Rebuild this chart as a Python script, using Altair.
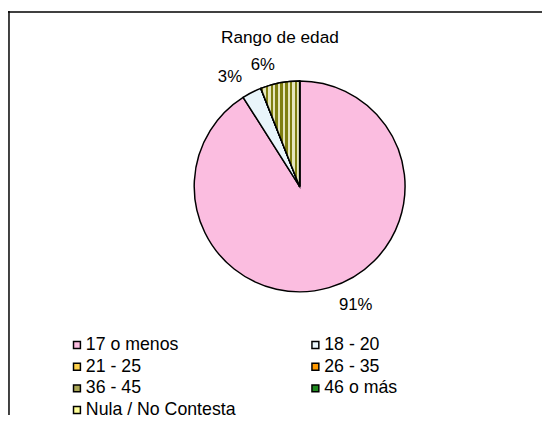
import altair as alt
import pandas as pd

categories = ["17 o menos", "18 - 20", "21 - 25", "26 - 35", "36 - 45", "46 o más", "Nula / No Contesta"]
values = [91, 3, 0, 0, 6, 0, 0]
colors = ["#fbbde0", "#e9f5fb", "#ffd24d", "#ff9900", "#a9a655", "#1f8a1f", "#ffff99"]

df = pd.DataFrame({"cat": categories, "value": values, "idx": list(range(len(categories)))})

FONT = "Liberation Sans"
FS = 17
CX, CY, R = 296, 178, 107
W, H = 542, 410

# vertical stripes for the olive slice
n = 8
stops = []
for i in range(n):
    stops += [
        {"offset": i / n, "color": "#7f7f10"},
        {"offset": (i + 0.5) / n, "color": "#7f7f10"},
        {"offset": (i + 0.5) / n, "color": "#e6e6bc"},
        {"offset": (i + 1) / n, "color": "#e6e6bc"},
    ]
stripes = {"gradient": "linear", "x1": 0, "x2": 1, "y1": 0, "y2": 0, "stops": stops}

base = alt.Chart(df)
theta = alt.Theta("value:Q", stack=True)
order = alt.Order("idx:Q", sort="ascending")

pie = base.mark_arc(outerRadius=R, stroke="black", strokeWidth=1.5).encode(
    x=alt.value(CX), y=alt.value(CY),
    theta=theta, order=order,
    color=alt.Color("cat:N", scale=alt.Scale(domain=categories, range=colors),
                    sort=categories,
                    legend=alt.Legend(title=None, orient="none", legendX=57, legendY=330,
                                      direction="horizontal", columns=2,
                                      symbolType="square", symbolSize=49, symbolOffset=4,
                                      symbolStrokeColor="black", symbolStrokeWidth=1.5,
                                      labelFont=FONT, labelFontSize=18, labelColor="black",
                                      labelOffset=0, rowPadding=4, columnPadding=67,
                                      labelLimit=0, padding=0)),
)

stripe_layer = base.mark_arc(outerRadius=R, stroke="black", strokeWidth=1.5).encode(
    x=alt.value(CX), y=alt.value(CY),
    theta=theta, order=order,
    fill=alt.condition(alt.datum.cat == "36 - 45", alt.value(stripes), alt.value("transparent")),
    strokeOpacity=alt.condition(alt.datum.cat == "36 - 45", alt.value(1), alt.value(0)),
)

lab = base.transform_calculate(
    label="datum.value > 0 ? format(datum.value / 100, '.0%') : ''"
)

labels_main = lab.transform_calculate(
    txt="datum.cat == '17 o menos' ? datum.label : ''"
).mark_text(radius=125, dx=22, font=FONT, fontSize=FS, color="black", baseline="middle").encode(
    x=alt.value(CX), y=alt.value(CY), theta=theta, order=order, text="txt:N"
)

labels_other = lab.transform_calculate(
    txt="datum.cat != '17 o menos' ? datum.label : ''"
).mark_text(radius=125, dx=-14, font=FONT, fontSize=FS, color="black", baseline="middle").encode(
    x=alt.value(CX), y=alt.value(CY), theta=theta, order=order, text="txt:N"
)

one = alt.Chart(alt.Data(values=[{"t": "Rango de edad"}]))

title = one.mark_text(font=FONT, fontSize=17.5, color="black", baseline="middle", align="center").encode(
    x=alt.value(276), y=alt.value(27), text="t:N"
)

frame_left = one.mark_rule(color="black", strokeWidth=1.5).encode(
    x=alt.value(1), y=alt.value(0), y2=alt.value(H)
)
frame_top = one.mark_rule(color="black", strokeWidth=1.5).encode(
    x=alt.value(0), x2=alt.value(W), y=alt.value(1)
)

chart = alt.layer(pie, stripe_layer, labels_main, labels_other, title, frame_left, frame_top).properties(
    width=W, height=H, padding=0, autosize=alt.AutoSizeParams(type="none"),
    background="white",
).configure_view(stroke=None)

chart.save("out.html", embed_options={"renderer": "svg", "actions": False})
